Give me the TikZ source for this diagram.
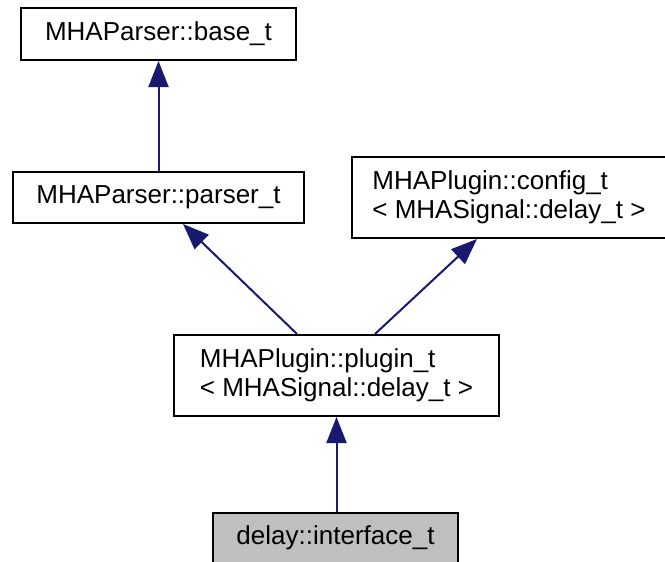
\documentclass[tikz,border=0pt]{standalone}
\usepackage{fontspec}
\setmainfont{Liberation Sans}
\usetikzlibrary{arrows.meta}
\definecolor{dgnavy}{HTML}{191970}
\definecolor{dggray}{HTML}{BFBFBF}

\begin{document}
\begin{tikzpicture}[x=1pt, y=-1pt,
  cls/.style={draw, line width=2pt, fill=white, inner sep=0pt,
    font=\fontsize{26}{29}\selectfont, align=left},
  inherit/.style={draw=dgnavy, line width=2pt,
    -{Triangle[length=26pt,width=20pt,fill=dgnavy]}}]
  \useasboundingbox (0,0) rectangle (665,562);

  \node[cls, minimum width=275pt, minimum height=52pt] (base) at (158.5,34) {MHAParser::base\_t};
  \node[cls, minimum width=291pt, minimum height=51pt] (parser) at (158.5,197.5) {MHAParser::parser\_t};
  \node[cls, minimum width=314pt, minimum height=81pt] (config) at (509,197.5)
    {MHAPlugin::config\_t\\< MHASignal::delay\_t >};
  \node[cls, minimum width=325pt, minimum height=81pt] (plugin) at (336.5,375.5)
    {MHAPlugin::plugin\_t\\< MHASignal::delay\_t >};
  \node[cls, fill=dggray, minimum width=245pt, minimum height=50pt] (iface) at (335.5,538) {delay::interface\_t};

  \draw[inherit] (parser.north) -- (base.south);
  \draw[inherit] ([xshift=-39.5pt]plugin.north) -- ([xshift=24.5pt]parser.south);
  \draw[inherit] ([xshift=38.5pt]plugin.north) -- ([xshift=-32pt]config.south);
  \draw[inherit] (iface.north -| plugin.south) -- (plugin.south);
\end{tikzpicture}
\end{document}
